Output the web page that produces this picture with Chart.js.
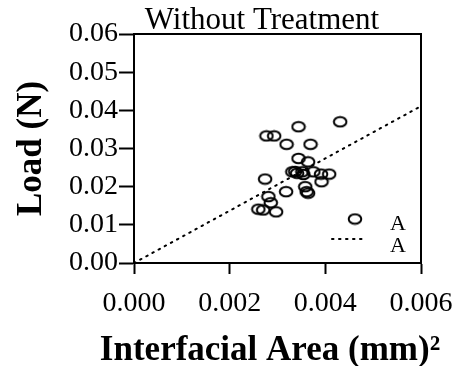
<!DOCTYPE html>
<html>
<head>
<meta charset="utf-8">
<script src="https://cdn.jsdelivr.net/npm/chart.js@4.4.1/dist/chart.umd.min.js"></script>
<style>
html,body{margin:0;padding:0;background:#fff;}
#wrap{width:463px;height:366px;}
</style>
</head>
<body>
<div id="wrap"><canvas id="c" width="463" height="366"></canvas></div>
<script>
const chartTitle = 'Without Treatment';
const xAxisTitle = 'Interfacial Area (mm)\u00B2';
const yAxisTitle = 'Load (N)';
const seriesLabel = 'A';
const fitLabel = 'A';

// Interfacial area (mm^2) and load (N) for each specimen
const areaValues = [0.00431, 0.00344, 0.00277, 0.00293, 0.00319, 0.00369, 0.00344, 0.00364,
  0.00331, 0.00337, 0.00341, 0.00352, 0.00354, 0.00375, 0.00391, 0.00408, 0.00392,
  0.00274, 0.00318, 0.00358, 0.00364, 0.00361, 0.00281, 0.00286, 0.00260, 0.00270, 0.00297];
const loadValues = [0.0370, 0.0357, 0.0333, 0.0333, 0.0311, 0.0311, 0.0274, 0.0265,
  0.0239, 0.0240, 0.0235, 0.0239, 0.0232, 0.0239, 0.0233, 0.0233, 0.0213,
  0.0220, 0.0187, 0.0200, 0.0183, 0.0187, 0.0174, 0.0158, 0.0141, 0.0139, 0.0134];

// Regression line end points
const fitX = [0.000, 0.006];
const fitY = [0.000, 0.0411];

const xTickLabels = ['0.000', '0.002', '0.004', '0.006'];
const yTickLabels = ['0.00', '0.01', '0.02', '0.03', '0.04', '0.05', '0.06'];

function ellipseMarker() {
  const cv = document.createElement('canvas');
  cv.width = 16; cv.height = 13;
  const g = cv.getContext('2d');
  g.strokeStyle = '#000';
  g.lineWidth = 2;
  g.beginPath();
  g.ellipse(8, 6.5, 6.3, 4.8, 0, 0, Math.PI * 2);
  g.stroke();
  return cv;
}
const marker = ellipseMarker();

const scatterData = areaValues.map((x, i) => ({x: x, y: loadValues[i]}));
const fitData = fitX.map((x, i) => ({x: x, y: fitY[i]}));

const frameAndText = {
  id: 'frameAndText',
  afterDatasetsDraw(chart) {
    const ctx = chart.ctx;
    const a = chart.chartArea;
    ctx.save();
    ctx.strokeStyle = '#000';
    ctx.lineWidth = 2;
    ctx.beginPath();
    ctx.moveTo(a.left, a.top);
    ctx.lineTo(a.right, a.top);
    ctx.lineTo(a.right, a.bottom);
    ctx.stroke();
    ctx.fillStyle = '#000';
    ctx.textBaseline = 'alphabetic';
    ctx.textAlign = 'center';
    // chart title
    ctx.font = '31px "Liberation Serif"';
    ctx.fillText(chartTitle, 262, 29);
    // x-axis title (drawn without width compression)
    ctx.font = 'bold 35px "Liberation Serif"';
    ctx.fillText(xAxisTitle, 270, 360);
    // legend
    ctx.drawImage(marker, 355 - 8, 219 - 6.5);
    ctx.setLineDash([1.5, 5.5]);
    ctx.lineCap = 'round';
    ctx.lineWidth = 2;
    ctx.beginPath();
    ctx.moveTo(332, 239);
    ctx.lineTo(363, 239);
    ctx.stroke();
    ctx.setLineDash([]);
    ctx.font = '22px "Liberation Serif"';
    ctx.fillText(chart.data.datasets[0].label, 398, 230);
    ctx.fillText(chart.data.datasets[1].label, 398, 252);
    ctx.restore();
  }
};

new Chart(document.getElementById('c'), {
  type: 'scatter',
  data: {
    datasets: [
      {
        label: seriesLabel,
        data: scatterData,
        pointStyle: marker,
        pointRadius: 6,
        showLine: false
      },
      {
        label: fitLabel,
        type: 'line',
        data: fitData,
        borderColor: '#000',
        borderWidth: 2,
        borderDash: [1.5, 5.5],
        borderCapStyle: 'round',
        pointRadius: 0,
        fill: false
      }
    ]
  },
  plugins: [frameAndText],
  options: {
    responsive: false,
    animation: false,
    devicePixelRatio: 1,
    layout: {padding: {left: 0, top: 34, right: 42, bottom: 0}},
    plugins: {legend: {display: false}, title: {display: false}, tooltip: {enabled: false}},
    scales: {
      x: {
        type: 'linear',
        min: 0, max: 0.006,
        afterFit(s) { s.height = 103; s.paddingLeft = 0; s.paddingRight = 0; },
        border: {display: true, color: '#000', width: 2},
        grid: {drawOnChartArea: false, drawTicks: true, tickLength: 11, tickColor: '#000', tickWidth: 2},
        ticks: {
          stepSize: 0.002,
          color: '#000',
          padding: 13,
          maxRotation: 0,
          font: {family: '"Liberation Serif"', size: 28},
          callback: (v, i) => xTickLabels[i]
        },
        title: {display: false}
      },
      y: {
        type: 'linear',
        min: 0, max: 0.06,
        afterFit(s) { s.width = 134; s.paddingTop = 0; s.paddingBottom = 0; },
        border: {display: true, color: '#000', width: 2},
        grid: {drawOnChartArea: false, drawTicks: true, tickLength: 15, tickColor: '#000', tickWidth: 2},
        ticks: {
          stepSize: 0.01,
          color: '#000',
          padding: 1,
          font: {family: '"Liberation Serif"', size: 28},
          callback: (v, i) => yTickLabels[i]
        },
        title: {
          display: true, text: yAxisTitle, color: '#000',
          font: {family: '"Liberation Serif"', size: 35, weight: 'bold', lineHeight: 1},
          padding: {top: 14, bottom: 0}
        }
      }
    }
  }
});
</script>
</body>
</html>
